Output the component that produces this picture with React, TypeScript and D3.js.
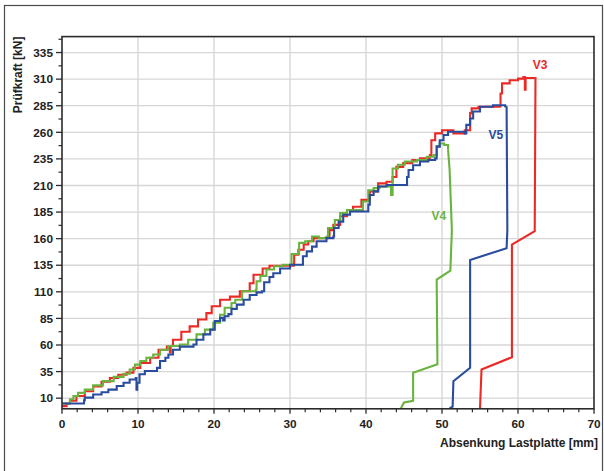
import React from 'react';
import * as d3 from 'd3';

// Series V3 (red): loading part (stepped) and unloading part (linear) [mm, kN]
const V3_LOAD: [number, number][] = [
  [0, 2.5], [0.6, 5], [1.05, 7.5], [1.9, 12], [3.0, 16.5], [4.1, 21], [5.2, 25.5], [6.3, 29],
  [7.4, 32], [8.5, 34], [9.4, 38.5], [10.3, 43], [11.6, 48], [12.7, 55.5], [13.8, 58.5],
  [14.2, 53], [14.3, 59], [14.6, 65], [15.7, 72.5], [16.8, 77.5], [17.9, 84], [19.0, 90],
  [19.7, 96.5], [20.8, 102.5], [22.1, 105.5], [23.4, 110.5], [24.7, 118], [25.2, 126],
  [26.4, 132], [27.3, 134.5], [30.5, 136], [30.55, 145], [31.1, 149.5], [31.8, 154.5],
  [32.4, 157.5], [33.1, 160.5], [34.7, 161], [35.2, 168], [35.7, 173], [36.6, 181],
  [37.5, 187], [38.3, 190], [39.4, 196.5], [40.5, 204.5], [41.6, 212], [42.7, 213.5],
  [43.5, 218], [44.0, 227.5], [44.9, 231], [46.1, 234], [47.1, 235.5], [48.4, 238.5],
  [48.6, 252.5], [49.1, 259], [50.0, 262], [51.5, 259], [53.0, 262], [53.7, 278],
  [53.9, 282.5], [54.8, 284], [57.6, 284.5], [57.7, 296.5], [57.9, 306], [58.9, 309],
  [60.0, 310.5], [60.7, 312], [60.9, 300], [61.0, 311], [62.3, 310.5],
];
const V3_UNLOAD: [number, number][] = [
  [62.3, 310.5], [62.2, 167], [59.2, 154.5], [59.2, 48.5], [55.2, 37], [55.0, 0.5],
];

// Series V5 (blue)
const V5_LOAD: [number, number][] = [
  [0, 5], [2.8, 5], [2.9, 8], [3.0, 10.5], [4.1, 13.5], [5.2, 15.5], [6.1, 18], [7.2, 21.5],
  [8.1, 24.5], [8.9, 27.5], [9.7, 29], [9.8, 18], [9.9, 24.5], [10.2, 32.5], [10.9, 35.5],
  [12.4, 35.5], [12.5, 38.5], [12.9, 45], [13.6, 48], [14.0, 51], [14.6, 55.5], [15.5, 58.5],
  [17.3, 60.5], [17.7, 65], [18.6, 70], [19.5, 74.5], [20.1, 82.5], [20.8, 85.5], [21.2, 83],
  [21.4, 87], [21.9, 89], [22.3, 94], [23.0, 98], [23.9, 102.5], [24.7, 107], [25.6, 109.5],
  [26.3, 110.5], [26.6, 119], [27.3, 124], [27.8, 127.5], [28.7, 132], [30.0, 135.5],
  [31.6, 135.5], [31.7, 143.5], [32.2, 148], [32.9, 152.5], [33.5, 157.5], [34.8, 160.5],
  [35.7, 162], [35.8, 170], [36.4, 176], [37.0, 182.5], [37.9, 185.5], [39.9, 185.5],
  [40.3, 192], [40.5, 201], [41.0, 204.5], [41.6, 209], [42.7, 210.5], [45.1, 210.5],
  [45.4, 218], [45.6, 224.5], [46.2, 229], [47.1, 232.5], [48.2, 234], [49.1, 235.5],
  [49.3, 246.5], [49.7, 252.5], [50.2, 257.5], [50.8, 260.5], [53.0, 259], [53.2, 267],
  [53.7, 273], [54.1, 279.5], [55.0, 284], [56.7, 285.5], [58.3, 284.5], [58.5, 284.5],
];
const V5_UNLOAD: [number, number][] = [
  [58.5, 284.5], [58.6, 168], [58.5, 151], [53.7, 140], [53.7, 38.5], [51.5, 26],
  [51.4, 2], [51.0, 0.5],
];

// Series V4 (green)
const V4_LOAD: [number, number][] = [
  [0.1, 5], [1.05, 9], [1.5, 12], [2.1, 15], [3.0, 18], [4.1, 22], [5.4, 26], [6.8, 30],
  [8.1, 33], [8.9, 37], [9.6, 41.5], [10.3, 45], [11.1, 48], [12.0, 51], [12.9, 55.5],
  [14.0, 59], [15.5, 60.5], [16.6, 65], [17.7, 70], [18.8, 74.5], [19.9, 81], [20.8, 88.5],
  [21.4, 95], [22.3, 99.5], [22.8, 102.5], [23.7, 110.5], [25.5, 112], [25.6, 120],
  [26.1, 125], [26.9, 131], [27.9, 134], [29.0, 135.5], [30.2, 145.5], [31.2, 156],
  [32.0, 157.5], [32.9, 162], [33.8, 160.5], [34.9, 162], [35.0, 170], [35.9, 177.5],
  [36.6, 184], [37.5, 187], [39.4, 187], [39.6, 195], [40.3, 205.5], [41.0, 207.5],
  [41.8, 209], [43.2, 209], [43.3, 201], [43.5, 226], [44.2, 229.5], [45.1, 232.5],
  [46.7, 234], [48.0, 237], [48.9, 238.5], [49.3, 247], [49.7, 249.5], [50.3, 248],
  [50.8, 243.5],
];
const V4_UNLOAD: [number, number][] = [
  [50.8, 243.5], [51.0, 225], [51.3, 168], [51.1, 130], [49.3, 121.5], [49.4, 42],
  [46.2, 34], [46.2, 7.5], [45.0, 6], [44.6, 0.5],
];

const X_TICKS = [0, 10, 20, 30, 40, 50, 60, 70];
const Y_TICKS = [10, 35, 60, 85, 110, 135, 160, 185, 210, 235, 260, 285, 310, 335];
const SERIES_NAMES = ['V3', 'V4', 'V5'];
const SERIES_COLORS = ['#ec2a25', '#6bb33f', '#2a4c9e'];
// label anchor points [mm, kN]
const SERIES_LABEL_AT: [number, number][] = [[62.9, 324], [49.6, 182], [57.1, 258]];

const W = 604;
const H = 471;
const L = 62, R = 594, T = 36.6, B = 408.8;
const FONT = '"Liberation Sans", Arial, sans-serif';

export default function App() {
  const x = d3.scaleLinear().domain([0, 70]).range([L, R]);
  const y = d3.scaleLinear().domain([0, 350]).range([B, T]);
  const step = d3.line<[number, number]>().x(d => x(d[0])).y(d => y(d[1])).curve(d3.curveStepAfter);
  const lin = d3.line<[number, number]>().x(d => x(d[0])).y(d => y(d[1]));

  const xMinor = d3.range(0, 70.01, 2).filter(v => v % 10 !== 0);
  const yMinor = d3.range(22.5, 350, 25);

  const series = [
    { load: V3_LOAD, unload: V3_UNLOAD, color: SERIES_COLORS[0] },
    { load: V4_LOAD, unload: V4_UNLOAD, color: SERIES_COLORS[1] },
    { load: V5_LOAD, unload: V5_UNLOAD, color: SERIES_COLORS[2] },
  ];

  const axisColor = '#2b2b2b';
  const gridColor = '#d6d6d6';

  return (
    <svg width={W} height={H} style={{ position: 'absolute', left: 0, top: 0, display: 'block', background: '#fff' }}
      fontFamily={FONT}>
      <rect x={0} y={0} width={W} height={H} fill="#fff" />
      <rect x={4.5} y={5.5} width={598} height={480} fill="none" stroke="#4a4a4a" strokeWidth={1.2} />

      {/* grid */}
      {X_TICKS.filter(v => v > 0 && v < 70).map(v => (
        <line key={'gx' + v} x1={x(v)} x2={x(v)} y1={T} y2={B} stroke={gridColor} strokeWidth={1.3} />
      ))}
      {Y_TICKS.map(v => (
        <line key={'gy' + v} x1={L} x2={R} y1={y(v)} y2={y(v)} stroke={gridColor} strokeWidth={1.3} />
      ))}

      {/* series */}
      {series.map((s, i) => (
        <g key={'s' + i} fill="none" stroke={s.color} strokeWidth={2.1} strokeLinejoin="miter">
          <path d={step(s.load) || ''} />
          <path d={lin(s.unload) || ''} />
        </g>
      ))}

      {/* frame */}
      <rect x={L} y={T} width={R - L} height={B - T} fill="none" stroke={axisColor} strokeWidth={1.6} />

      {/* y ticks */}
      {Y_TICKS.map(v => (
        <g key={'yt' + v}>
          <line x1={L - 6} x2={L} y1={y(v)} y2={y(v)} stroke={axisColor} strokeWidth={1.3} />
          <text x={L - 9} y={y(v)} dy="0.36em" textAnchor="end" fontSize={11.8} fontWeight="bold" fill="#222">{v}</text>
        </g>
      ))}
      {yMinor.map(v => (
        <line key={'ym' + v} x1={L - 3.5} x2={L} y1={y(v)} y2={y(v)} stroke={axisColor} strokeWidth={1.2} />
      ))}

      {/* x ticks */}
      {X_TICKS.map(v => (
        <g key={'xt' + v}>
          <line x1={x(v)} x2={x(v)} y1={B} y2={B + 5} stroke={axisColor} strokeWidth={1.3} />
          <text x={x(v)} y={B + 19.5} textAnchor="middle" fontSize={11.8} fontWeight="bold" fill="#222">{v}</text>
        </g>
      ))}
      {xMinor.map(v => (
        <line key={'xm' + v} x1={x(v)} x2={x(v)} y1={B} y2={B + 3.5} stroke={axisColor} strokeWidth={1.2} />
      ))}

      {/* axis titles */}
      <text x={598} y={447} textAnchor="end" fontSize={12} fontWeight="bold" fill="#222">Absenkung Lastplatte [mm]</text>
      <text transform={`translate(21.5, ${T}) rotate(-90)`} textAnchor="end" fontSize={12} fontWeight="bold" fill="#222">Prüfkraft [kN]</text>

      {/* series labels */}
      {SERIES_NAMES.map((n, i) => (
        <text key={'lbl' + n} x={x(SERIES_LABEL_AT[i][0])} y={y(SERIES_LABEL_AT[i][1])} dy="0.36em" textAnchor="middle"
          fontSize={12} fontWeight="bold" fill={SERIES_COLORS[i]}>{n}</text>
      ))}
    </svg>
  );
}
